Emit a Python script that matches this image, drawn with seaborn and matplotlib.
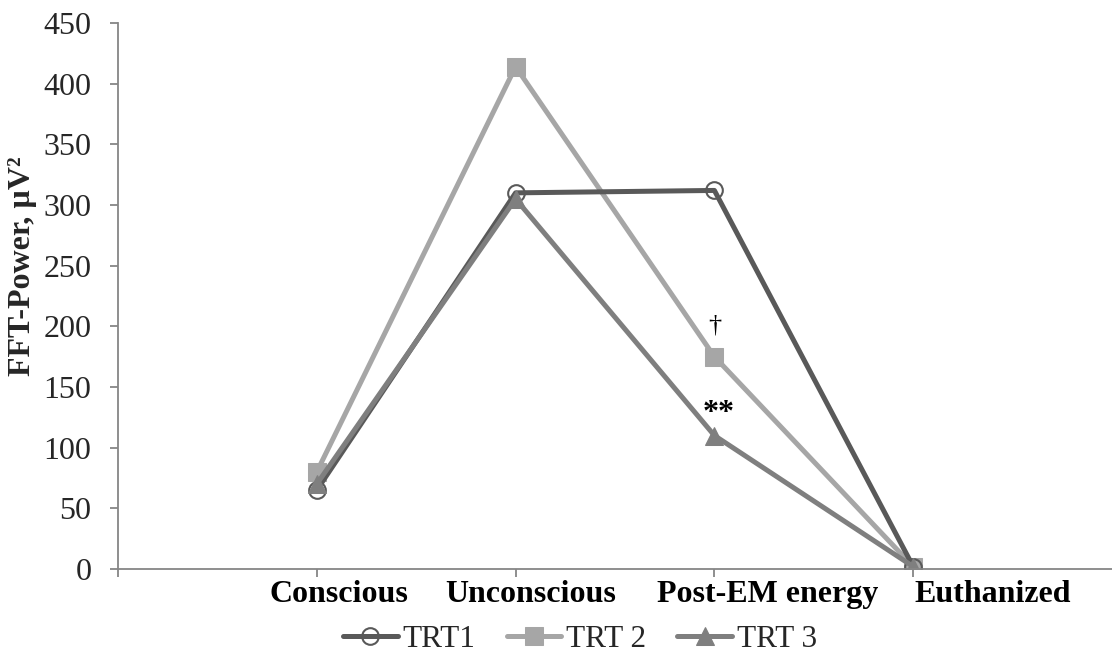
import matplotlib
matplotlib.use("Agg")
import matplotlib.pyplot as plt
import pandas as pd
import seaborn as sns

# data
stages = ["Conscious", "Unconscious", "Post-EM energy", "Euthanized"]
trt1 = [65, 310, 312, 2]
trt2 = [80, 414, 175, 2]
trt3 = [70, 305, 110, 2]
y_ticks = [0, 50, 100, 150, 200, 250, 300, 350, 400, 450]

sns.set_theme(style="white")
plt.rcParams["font.family"] = ["Liberation Serif", "DejaVu Serif"]

fig = plt.figure(figsize=(11.12, 6.59), dpi=100)
ax = fig.add_axes([0.1061, 0.1366, 0.8939, 0.8285])

pos = list(range(len(stages)))
series = [
    ("TRT2", trt2, "TRT 2", dict(color="#A6A6A6", marker="s", markersize=13,
                                  markerfacecolor="#A6A6A6", markeredgecolor="#A6A6A6")),
    ("TRT1", trt1, "TRT1", dict(color="#595959", marker="o", markersize=12,
                                 markerfacecolor="none", markeredgecolor="#595959",
                                 markeredgewidth=1.5)),
    ("TRT3", trt3, "TRT 3", dict(color="#7F7F7F", marker="^", markersize=13,
                                  markerfacecolor="#7F7F7F", markeredgecolor="#7F7F7F")),
]
handles = {}
for key, vals, lab, kw in series:
    df = pd.DataFrame({"pos": pos, "val": vals})
    sns.lineplot(data=df, x="pos", y="val", ax=ax, linewidth=3.6, label=lab, **kw)
    handles[lab] = ax.get_lines()[-1]

# significance marks
ax.text(2, 201, "†", ha="center", va="center", fontsize=19, color="black")
ax.text(2.02, 128, "**", ha="center", va="center", fontsize=23, fontweight="bold",
        color="black")

ax.set_xlim(-1, 4)
ax.set_ylim(0, 450)
ax.set_yticks(y_ticks)
ax.set_xticks([-1] + pos)
ax.set_xticklabels([])
# Excel-style category labels, sitting a bit right of their ticks
shifts = [0.11, 0.075, 0.267, 0.402]
for p, name, dx in zip(pos, stages, shifts):
    ax.text(p + dx, -0.02, name, transform=ax.get_xaxis_transform(), ha="center",
            va="top", fontsize=23, fontweight="bold", color="black")
ax.tick_params(axis="y", labelsize=23, length=6, width=1.3, color="#868686",
               direction="out", pad=13, left=True)
ax.tick_params(axis="x", length=6, width=1.3, color="#868686", direction="out",
               bottom=True)
for s in ["top", "right"]:
    ax.spines[s].set_visible(False)
for s in ["left", "bottom"]:
    ax.spines[s].set_color("#868686")
    ax.spines[s].set_linewidth(1.3)

ax.set_xlabel("")
ax.set_ylabel("FFT-Power, µV²", fontsize=23, fontweight="bold")
ax.yaxis.set_label_coords(-0.0815, 0.555)

ax.legend([handles["TRT1"], handles["TRT 2"], handles["TRT 3"]],
          ["TRT1", "TRT 2", "TRT 3"], loc="center", bbox_to_anchor=(0.5216, 0.03),
          bbox_transform=fig.transFigure, ncol=3, frameon=False, fontsize=22.5,
          handlelength=1.75, handletextpad=0.15, columnspacing=1.0,
          borderpad=0, borderaxespad=0)

fig.savefig("out.png", dpi=100)
